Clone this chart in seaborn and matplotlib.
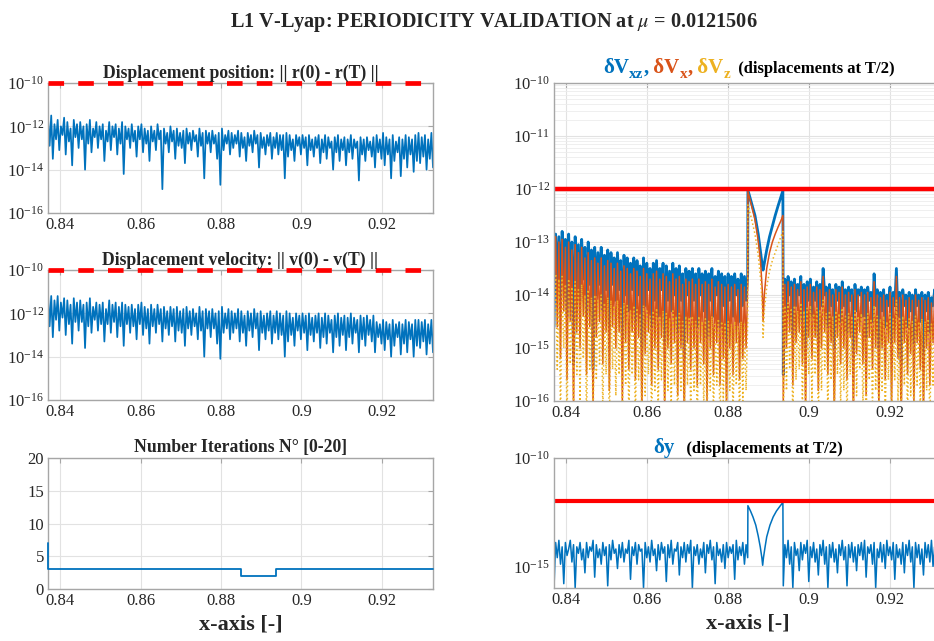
import numpy as np
import matplotlib
matplotlib.use("Agg")
import matplotlib.pyplot as plt
import seaborn as sns
from matplotlib.ticker import FixedLocator, LogLocator, NullLocator, NullFormatter, LogFormatterMathtext

# ---------------- data (log10 of the displacement norms) ----------------
x_start, x_end = 0.837, 0.9327
hump_start, hump_end = 0.8849, 0.8937
tol_pos, tol_vel, tol_half, tol_dy = 1e-10, 1e-10, 1e-12, 1e-12

pos_log = [-11.6,-12.9,-11.5,-13.5,-11.9,-12.6,-11.7,-13.1,-12.0,-12.4,
           -11.6,-13.3,-11.8,-12.7,-12.1,-13.8,-11.7,-12.5,-11.9,-13.0,
           -11.8,-12.6,-12.0,-14.0,-11.9,-12.8,-11.7,-13.2,-12.1,-12.5,
           -11.8,-13.0,-12.0,-12.6,-11.9,-13.6,-12.2,-12.7,-11.8,-13.1,
           -12.0,-12.5,-11.9,-13.3,-12.1,-12.8,-11.8,-14.2,-12.0,-12.6,
           -12.1,-13.0,-11.9,-12.7,-12.2,-13.4,-12.0,-12.6,-11.9,-13.2,
           -12.1,-12.8,-12.2,-13.6,-12.0,-12.7,-12.2,-13.1,-11.9,-12.6,
           -12.2,-14.9,-12.1,-12.8,-12.3,-13.2,-12.0,-12.7,-12.2,-13.5,
           -12.1,-12.9,-12.3,-13.0,-12.2,-13.7,-12.1,-12.8,-12.3,-13.1,
           -12.2,-12.7,-12.4,-13.4,-12.1,-12.9,-12.3,-14.4,-12.2,-12.8,
           -12.3,-13.2,-12.2,-12.8,-12.4,-13.5,-12.3,-14.7,-12.1,-13.1,
           -12.4,-12.8,-12.2,-13.3,-12.3,-13.0,-12.4,-12.8,-12.2,-13.4,
           -12.3,-13.0,-12.5,-13.6,-12.3,-12.9,-12.4,-13.2,-12.2,-12.8,
           -12.4,-13.9,-12.3,-13.0,-12.5,-13.3,-12.4,-12.9,-12.3,-13.5,
           -12.5,-13.0,-12.3,-13.3,-12.4,-13.1,-12.4,-14.4,-12.3,-13.4,
           -12.4,-13.1,-12.6,-13.6,-12.4,-12.9,-12.5,-13.3,-12.4,-13.0,
           -12.5,-13.8,-12.4,-13.1,-12.6,-13.4,-12.5,-13.0,-12.4,-13.7,
           -12.6,-13.2,-12.4,-13.5,-12.5,-13.0,-12.7,-14.0,-12.5,-13.2,
           -12.4,-13.6,-12.6,-13.1,-12.5,-13.8,-12.6,-13.2,-12.4,-13.5,
           -12.6,-13.0,-12.7,-14.5,-12.5,-13.3,-12.6,-13.6,-12.5,-13.1,
           -12.7,-13.4,-12.5,-13.9,-12.4,-13.2,-12.6,-13.5,-12.3,-13.8,
           -12.5,-13.3,-12.6,-14.4,-12.4,-13.6,-12.7,-13.2,-12.5,-14.3,
           -12.6,-13.5,-12.4,-13.9,-12.5,-13.3,-12.6,-14.1,-12.4,-13.6,
           -12.3,-13.7,-12.5,-13.4,-12.4,-14.0,-12.6,-13.5,-12.3,-13.9]

vel_log = [-11.1,-12.6,-11.2,-13.1,-11.4,-12.3,-11.2,-12.8,-11.5,-12.2,
           -11.3,-13.0,-11.4,-12.5,-11.6,-13.4,-11.3,-12.4,-11.5,-12.8,
           -11.4,-12.4,-11.6,-13.6,-11.5,-12.6,-11.3,-12.9,-11.7,-12.3,
           -11.5,-12.8,-11.6,-12.5,-11.5,-13.3,-11.8,-12.5,-11.4,-12.9,
           -11.6,-12.4,-11.5,-13.1,-11.7,-12.6,-11.5,-13.5,-11.6,-12.5,
           -11.7,-12.9,-11.6,-12.6,-11.8,-13.2,-11.6,-12.5,-11.5,-13.0,
           -11.7,-12.7,-11.8,-13.4,-11.6,-12.6,-11.8,-12.9,-11.6,-12.5,
           -11.8,-13.3,-11.7,-12.7,-11.9,-13.0,-11.7,-12.6,-11.8,-13.3,
           -11.7,-12.8,-11.9,-12.9,-11.8,-13.5,-11.7,-12.7,-11.9,-13.0,
           -11.8,-12.6,-12.0,-13.2,-11.7,-12.8,-11.9,-14.0,-11.8,-12.7,
           -11.9,-13.1,-11.8,-12.7,-12.0,-13.4,-11.9,-14.1,-11.7,-12.9,
           -12.0,-12.7,-11.8,-13.2,-11.9,-12.9,-12.0,-12.7,-11.8,-13.3,
           -11.9,-12.9,-12.1,-13.5,-11.9,-12.8,-12.0,-13.1,-11.8,-12.7,
           -12.0,-13.7,-11.9,-12.9,-12.1,-13.2,-12.0,-12.8,-11.9,-13.4,
           -12.1,-12.9,-11.9,-13.2,-12.0,-13.0,-12.1,-14.0,-11.9,-13.3,
           -12.0,-13.0,-12.2,-13.5,-12.0,-12.8,-12.1,-13.2,-12.0,-12.9,
           -12.1,-13.7,-12.0,-13.0,-12.2,-13.3,-12.1,-12.9,-12.0,-13.6,
           -12.2,-13.1,-12.0,-13.4,-12.1,-12.9,-12.3,-13.8,-12.1,-13.1,
           -12.0,-13.5,-12.2,-13.0,-12.1,-13.7,-12.2,-13.1,-12.0,-13.4,
           -12.2,-12.9,-12.3,-13.8,-12.1,-13.2,-12.2,-13.5,-12.1,-13.0,
           -12.3,-13.3,-12.1,-13.8,-12.4,-13.1,-12.5,-13.4,-12.3,-13.7,
           -12.4,-13.2,-12.5,-14.0,-12.3,-13.5,-12.5,-13.1,-12.4,-13.9,
           -12.5,-13.4,-12.3,-13.8,-12.4,-13.2,-12.5,-14.0,-12.3,-13.5,
           -12.3,-13.6,-12.4,-13.3,-12.3,-13.9,-12.5,-13.4,-12.3,-13.8]

iter_x = [0.8370, 0.8371, 0.8849, 0.8937, 0.9327]
iter_n = [7, 3, 2, 3, 3]

dVxz_L = [-14.6,-12.85,-13.9,-12.9,-14.2,-12.8,-13.7,-12.95,-14.4,-12.85,
          -13.8,-13.0,-15.3,-12.9,-13.9,-13.05,-14.1,-12.95,-13.7,-13.1,
          -14.5,-13.0,-13.8,-13.15,-15.4,-13.1,-14.0,-13.2,-13.8,-13.1,
          -14.3,-13.25,-13.9,-13.15,-14.6,-13.2,-13.8,-13.3,-14.1,-13.2,
          -13.9,-13.35,-14.8,-13.25,-14.0,-13.3,-14.3,-13.4,-13.9,-13.3,
          -14.5,-13.35,-14.0,-13.45,-15.0,-13.3,-14.2,-13.4,-13.9,-13.5,
          -14.6,-13.4,-14.1,-13.35,-14.4,-13.5,-13.9,-13.4,-14.9,-13.45,
          -14.1,-13.55,-14.3,-13.4,-14.0,-13.5,-14.7,-13.45,-14.1,-13.6,
          -15.2,-13.5,-14.0,-13.55,-14.4,-13.5,-14.1,-13.6,-14.6,-13.5,
          -14.0,-13.6,-14.3,-13.55,-14.8,-13.6,-14.1,-13.5,-14.4,-13.65,
          -14.0,-13.55,-14.6,-13.6,-14.2,-13.65,-14.9,-13.6,-14.1,-13.65,
          -14.4,-13.6,-14.0,-13.7,-14.5,-13.6,-14.2,-13.65,-14.1,-13.6]
dVx_L = [-14.0,-12.9,-14.6,-13.0,-15.2,-12.95,-14.3,-13.1,-15.6,-13.0,
         -14.5,-13.15,-16.2,-13.05,-14.7,-13.2,-15.0,-13.1,-14.4,-13.3,
         -15.5,-13.2,-14.6,-13.35,-16.1,-13.3,-14.8,-13.4,-14.5,-13.3,
         -15.3,-13.45,-14.7,-13.35,-15.8,-13.4,-14.6,-13.5,-15.0,-13.4,
         -14.7,-13.55,-16.0,-13.45,-14.9,-13.5,-15.4,-13.6,-14.7,-13.5,
         -15.6,-13.55,-14.8,-13.65,-16.3,-13.5,-15.1,-13.6,-14.7,-13.7,
         -15.7,-13.6,-15.0,-13.55,-15.4,-13.7,-14.8,-13.6,-16.2,-13.65,
         -15.0,-13.75,-15.3,-13.6,-14.9,-13.7,-15.9,-13.65,-15.0,-13.8,
         -16.4,-13.7,-14.9,-13.75,-15.4,-13.7,-15.0,-13.8,-15.7,-13.7,
         -14.9,-13.8,-15.3,-13.75,-16.0,-13.8,-15.0,-13.7,-15.5,-13.85,
         -14.9,-13.75,-15.7,-13.8,-15.2,-13.85,-16.2,-13.8,-15.0,-13.85,
         -15.5,-13.8,-14.9,-13.9,-15.6,-13.8,-15.2,-13.85,-15.0,-13.8]
dVz_L = [-14.8,-13.6,-15.4,-13.7,-16.3,-13.65,-15.0,-13.8,-16.5,-13.7,
         -15.3,-13.85,-16.5,-13.75,-15.5,-13.9,-16.0,-13.8,-15.2,-14.0,
         -16.4,-13.9,-15.4,-14.05,-16.5,-14.0,-15.6,-14.1,-15.3,-14.0,
         -16.2,-14.15,-15.5,-14.05,-16.5,-14.1,-15.4,-14.2,-15.9,-14.1,
         -15.5,-14.25,-16.5,-14.15,-15.7,-14.2,-16.3,-14.3,-15.5,-14.2,
         -16.4,-14.25,-15.6,-14.35,-16.5,-14.2,-15.9,-14.3,-15.5,-14.4,
         -16.5,-14.3,-15.8,-14.25,-16.2,-14.4,-15.6,-14.3,-16.5,-14.35,
         -15.8,-14.45,-16.1,-14.3,-15.7,-14.4,-16.5,-14.35,-15.8,-14.5,
         -16.5,-14.4,-15.7,-14.45,-16.2,-14.4,-15.8,-14.5,-16.5,-14.4,
         -15.7,-14.5,-16.1,-14.45,-16.5,-14.5,-15.8,-14.4,-16.3,-14.55,
         -15.7,-14.45,-16.5,-14.5,-16.0,-14.55,-16.5,-14.5,-15.8,-14.55,
         -16.3,-14.5,-15.7,-14.6,-16.4,-14.5,-16.0,-14.55,-15.8,-14.5]

hump_x = [0.88495, 0.8858, 0.8867, 0.8875, 0.8881, 0.8885, 0.8887, 0.8890,
          0.8896, 0.8903, 0.8910, 0.8917, 0.8924, 0.8931, 0.8936]
dVxz_hump = [-12.02,-12.25,-12.5,-12.85,-13.2,-13.45,-13.53,-13.4,
             -13.15,-12.9,-12.7,-12.5,-12.32,-12.15,-12.03]
dVx_hump = [-12.05,-12.3,-12.58,-12.98,-13.4,-13.9,-14.5,-14.0,
            -13.5,-13.2,-13.0,-12.85,-12.72,-12.6,-12.5]
dVz_hump = [-12.3,-12.55,-12.85,-13.25,-13.7,-14.2,-14.8,-14.3,
            -13.85,-13.55,-13.35,-13.2,-13.05,-12.9,-12.8]

dVxz_R = [-15.5,-13.7,-14.3,-13.65,-14.0,-13.75,-14.8,-13.7,-14.2,-13.8,
          -14.0,-13.65,-14.5,-13.8,-15.1,-13.75,-14.1,-13.7,-14.4,-13.85,
          -14.1,-13.75,-14.9,-13.8,-14.2,-13.5,-14.0,-13.85,-14.6,-13.8,
          -14.2,-13.9,-15.0,-13.8,-14.1,-13.85,-14.5,-13.75,-14.2,-13.9,
          -14.7,-13.85,-14.1,-13.9,-15.2,-13.8,-14.3,-13.9,-14.0,-13.85,
          -14.4,-13.9,-14.8,-13.85,-14.1,-13.95,-14.5,-13.6,-14.2,-13.9,
          -15.0,-13.95,-14.3,-13.9,-14.6,-14.0,-14.2,-13.85,-14.9,-13.95,
          -14.2,-13.5,-14.4,-13.95,-15.3,-13.9,-14.2,-14.0,-14.6,-13.95,
          -14.3,-14.0,-14.9,-13.9,-14.2,-14.0,-14.5,-13.95,-15.1,-14.0,
          -14.3,-13.95,-14.7,-14.05,-14.2,-13.9,-14.8,-14.0,-14.4,-13.95]
dVx_R = [-16.0,-13.8,-15.0,-13.75,-14.7,-13.85,-15.7,-13.8,-14.9,-13.9,
         -14.7,-13.75,-15.3,-13.9,-16.2,-13.85,-14.8,-13.8,-15.2,-13.95,
         -14.8,-13.85,-15.8,-13.9,-15.0,-13.65,-14.7,-13.95,-15.5,-13.9,
         -14.9,-14.0,-16.3,-13.9,-14.8,-13.95,-15.3,-13.85,-15.0,-14.0,
         -15.6,-13.95,-14.8,-14.0,-16.4,-13.9,-15.1,-14.0,-14.7,-13.95,
         -15.3,-14.0,-15.9,-13.95,-14.8,-14.05,-15.4,-13.75,-15.0,-14.0,
         -16.1,-14.05,-15.0,-14.0,-15.6,-14.1,-14.9,-13.95,-16.0,-14.05,
         -14.9,-13.65,-15.2,-14.05,-16.5,-14.0,-14.9,-14.1,-15.5,-14.05,
         -15.1,-14.1,-16.0,-14.0,-14.9,-14.1,-15.4,-14.05,-16.3,-14.1,
         -15.0,-14.05,-15.7,-14.15,-14.9,-14.0,-16.0,-14.1,-15.3,-14.05]
dVz_R = [-16.5,-14.2,-15.8,-14.15,-15.4,-14.25,-16.4,-14.2,-15.6,-14.3,
         -15.4,-14.15,-16.1,-14.3,-16.5,-14.25,-15.5,-14.2,-16.0,-14.35,
         -15.5,-14.25,-16.5,-14.3,-15.8,-14.1,-15.4,-14.35,-16.3,-14.3,
         -15.6,-14.4,-16.5,-14.3,-15.5,-14.35,-16.1,-14.25,-15.8,-14.4,
         -16.4,-14.35,-15.5,-14.4,-16.5,-14.3,-15.9,-14.4,-15.4,-14.35,
         -16.1,-14.4,-16.5,-14.35,-15.6,-14.45,-16.2,-14.2,-15.8,-14.4,
         -16.5,-14.45,-15.8,-14.4,-16.4,-14.5,-15.6,-14.35,-16.5,-14.45,
         -15.6,-14.1,-16.0,-14.45,-16.5,-14.4,-15.7,-14.5,-16.3,-14.45,
         -15.9,-14.5,-16.5,-14.4,-15.7,-14.5,-16.2,-14.45,-16.5,-14.5,
         -15.8,-14.45,-16.5,-14.55,-15.7,-14.4,-16.5,-14.5,-16.1,-14.45]

dy_L = [-16.0,-13.9,-14.6,-13.8,-14.9,-14.1,-15.8,-13.9,-14.5,-14.2,
        -13.8,-14.8,-14.0,-16.0,-14.1,-14.4,-13.9,-14.7,-14.2,-15.3,
        -13.9,-14.6,-14.1,-14.3,-13.8,-15.5,-14.0,-14.6,-14.2,-14.9,
        -13.9,-14.5,-14.1,-15.9,-14.0,-14.7,-13.8,-14.4,-14.2,-15.1,
        -14.0,-14.6,-13.9,-14.8,-14.2,-14.4,-13.8,-15.6,-14.1,-14.5,
        -13.9,-14.9,-14.0,-14.3,-14.2,-16.0,-13.9,-14.6,-14.1,-14.8,
        -13.8,-14.5,-14.2,-15.2,-14.0,-14.7,-13.9,-14.4,-14.1,-15.7,
        -14.0,-14.6,-13.8,-14.9,-14.2,-14.3,-13.9,-15.4,-14.1,-14.6,
        -13.9,-14.8,-14.0,-14.4,-13.8,-16.0,-14.1,-14.5,-14.0,-14.9,
        -14.2,-14.6,-13.9,-15.3,-14.0,-14.4,-13.8,-14.7,-14.1,-15.8,
        -13.9,-14.5,-14.2,-14.8,-14.0,-15.1,-13.9,-14.6,-14.1,-14.4,
        -14.0,-15.6,-13.8,-14.7,-14.1,-14.5,-13.9,-14.9,-14.0,-14.6]
dy_hump_x = [0.88495, 0.8856, 0.8862, 0.8869, 0.8875, 0.8880, 0.8884, 0.8886,
             0.8888, 0.8892, 0.8896, 0.8904, 0.8912, 0.8920, 0.8929, 0.8936]
dy_hump = [-12.2,-12.45,-12.72,-13.1,-13.6,-14.1,-14.6,-14.95,
           -14.6,-14.1,-13.64,-13.1,-12.72,-12.45,-12.22,-12.05]
dy_R = [-15.9,-14.0,-14.6,-13.8,-14.9,-14.1,-16.0,-13.9,-14.5,-14.2,
        -15.2,-13.9,-14.7,-14.0,-14.4,-13.8,-15.7,-14.1,-14.6,-13.9,
        -14.8,-14.2,-15.4,-14.0,-14.5,-13.8,-14.9,-14.1,-16.0,-14.0,
        -14.6,-13.9,-14.8,-14.2,-15.3,-14.0,-14.5,-13.8,-14.7,-14.1,
        -15.9,-14.0,-14.6,-13.9,-14.8,-14.1,-15.2,-14.0,-14.5,-13.9,
        -14.7,-13.8,-15.5,-14.1,-14.4,-14.0,-14.9,-13.9,-16.0,-14.2,
        -14.6,-13.9,-14.8,-14.0,-15.1,-13.8,-14.5,-14.1,-14.7,-13.9,
        -15.6,-14.0,-14.6,-14.2,-14.9,-13.9,-15.3,-14.0,-14.5,-13.8,
        -14.8,-14.1,-16.0,-13.9,-14.6,-14.0,-14.9,-14.2,-15.4,-13.9,
        -14.6,-14.0,-14.8,-13.8,-15.0,-14.1,-14.5,-13.9,-15.7,-14.0]

x_ticks = [0.84, 0.86, 0.88, 0.9, 0.92]
x_tick_labels = ["0.84", "0.86", "0.88", "0.9", "0.92"]
decade_ticks = [1e-16, 1e-15, 1e-14, 1e-13, 1e-12, 1e-11, 1e-10]

# ---------------- style ----------------
sns.set_theme(style="white")
plt.rcParams['font.family'] = ['Liberation Serif', 'DejaVu Serif']
plt.rcParams['mathtext.fontset'] = 'stix'

BLUE, ORANGE, YELLOW, RED = "#0072BD", "#D95319", "#EDB120", "#FF0000"
SPINE = "#a6a6a6"
GRID = "#e2e2e2"

fig = plt.figure(figsize=(9.34, 6.41), dpi=100)
W, H = 934.0, 641.0

def add_ax(l, t, r, b):
    return fig.add_axes([l / W, 1 - b / H, (r - l) / W, (b - t) / H])

def style(ax):
    for s in ax.spines.values():
        s.set_color(SPINE)
        s.set_linewidth(1.0)
    ax.tick_params(direction='in', length=3.5, width=0.8, color=SPINE,
                   labelsize=12, labelcolor='#262626', top=True, right=True,
                   pad=3)
    ax.tick_params(which='minor', length=0)
    ax.set_xlim(x_start, x_end)
    ax.xaxis.set_major_locator(FixedLocator(x_ticks))
    ax.set_xticklabels(x_tick_labels)
    ax.grid(True, which='major', color=GRID, lw=0.8)
    ax.set_axisbelow(True)
    ax.set_xlabel("")
    ax.set_ylabel("")

def exp10(v):
    return 10.0 ** np.asarray(v, dtype=float)

def log_axis(ax, ticks):
    ax.set_ylim(1e-16, 1e-10)
    ax.yaxis.set_major_locator(FixedLocator(ticks))
    ax.yaxis.set_major_formatter(LogFormatterMathtext())
    ax.yaxis.set_minor_locator(NullLocator())

# ---- left top: position ----
ax1 = add_ax(48, 83, 433, 213)
sns.lineplot(x=np.linspace(x_start, x_end, len(pos_log)), y=exp10(pos_log),
             ax=ax1, color=BLUE, lw=1.25, sort=False, estimator=None)
ax1.set_yscale('log')
ax1.axhline(tol_pos, color=RED, lw=3.4, ls=(0, (3.3, 3.0)), clip_on=False, zorder=3)
style(ax1)
log_axis(ax1, [1e-16, 1e-14, 1e-12, 1e-10])
ax1.set_title("Displacement position: || r(0) - r(T) ||", fontsize=12.7,
              fontweight='bold', pad=4)

# ---- left middle: velocity ----
ax2 = add_ax(48, 270, 433, 400)
sns.lineplot(x=np.linspace(x_start, x_end, len(vel_log)), y=exp10(vel_log),
             ax=ax2, color=BLUE, lw=1.25, sort=False, estimator=None)
ax2.set_yscale('log')
ax2.axhline(tol_vel, color=RED, lw=3.4, ls=(0, (3.3, 3.0)), clip_on=False, zorder=3)
style(ax2)
log_axis(ax2, [1e-16, 1e-14, 1e-12, 1e-10])
ax2.set_title("Displacement velocity: || v(0) - v(T) ||", fontsize=12.7,
              fontweight='bold', pad=4)

# ---- left bottom: iterations ----
ax3 = add_ax(48, 458, 433, 589)
sns.lineplot(x=iter_x, y=iter_n, ax=ax3, color=BLUE, lw=1.3,
             drawstyle='steps-post', sort=False, estimator=None, zorder=3,
             clip_on=False)
ax3.set_ylim(0, 20)
style(ax3)
ax3.yaxis.set_major_locator(FixedLocator([0, 5, 10, 15, 20]))
ax3.set_title("Number Iterations N° [0-20]", fontsize=12.7, fontweight='bold', pad=4)
ax3.set_xlabel("x-axis [-]", fontsize=16, fontweight='bold', labelpad=4)

# ---- right top: half-period velocity displacements ----
ax4 = add_ax(554, 83, 941, 401)
xL = np.linspace(x_start, hump_start, len(dVxz_L))
xR = np.linspace(hump_end, x_end, len(dVxz_R))
x_half = np.concatenate([xL, hump_x, xR])
sns.lineplot(x=x_half, y=exp10(dVxz_L + dVxz_hump + dVxz_R), ax=ax4,
             color=BLUE, lw=2.0, sort=False, estimator=None)
sns.lineplot(x=x_half, y=exp10(dVx_L + dVx_hump + dVx_R), ax=ax4,
             color=ORANGE, lw=1.1, sort=False, estimator=None)
sns.lineplot(x=x_half, y=exp10(dVz_L + dVz_hump + dVz_R), ax=ax4,
             color=YELLOW, lw=1.1, ls=':', sort=False, estimator=None)
ax4.set_yscale('log')
ax4.axhline(tol_half, color=RED, lw=3.2)
style(ax4)
log_axis(ax4, decade_ticks)
minor = [m * d for d in decade_ticks[:-1] for m in range(2, 10)]
ax4.yaxis.set_minor_locator(FixedLocator(minor))
ax4.yaxis.set_minor_formatter(NullFormatter())
ax4.grid(True, which='minor', axis='y', color='#ececec', lw=0.6)

# ---- right bottom: dy ----
ax5 = add_ax(554, 458, 941, 588)
xdL = np.linspace(x_start, hump_start, len(dy_L))
xdR = np.linspace(hump_end, x_end, len(dy_R))
sns.lineplot(x=np.concatenate([xdL, dy_hump_x, xdR]),
             y=exp10(dy_L + dy_hump + dy_R), ax=ax5, color=BLUE, lw=1.1,
             sort=False, estimator=None)
ax5.set_yscale('log')
ax5.axhline(tol_dy, color=RED, lw=3.0)
style(ax5)
log_axis(ax5, [1e-15, 1e-10])
ax5.set_xlabel("x-axis [-]", fontsize=16, fontweight='bold', labelpad=4)

# ---- multi-coloured titles (pieces placed side by side) ----
renderer = fig.canvas.get_renderer()

def chain_text(x_px, base_px, pieces):
    x = x_px
    for txt, col, sub, fs in pieces:
        y = base_px + (5 if sub else 0)
        t = fig.text(x / W, 1 - y / H, txt, color=col, fontsize=fs,
                     fontweight='bold', va='baseline', ha='left')
        x = t.get_window_extent(renderer).x1

chain_text(603, 73, [("δV", BLUE, False, 15), ("xz", BLUE, True, 11),
                     (",", BLUE, False, 15), (" δV", ORANGE, False, 15),
                     ("x", ORANGE, True, 11), (",", ORANGE, False, 15),
                     (" δV", YELLOW, False, 15), ("z", YELLOW, True, 11),
                     ("  (displacements at T/2)", "black", False, 12)])
chain_text(653, 453, [("δy", BLUE, False, 15),
                      ("   (displacements at T/2)", "black", False, 12)])

fig.text(494 / W, 1 - 22 / H, r"L1 V-Lyap: PERIODICITY VALIDATION at $\mu$ = 0.0121506",
         ha='center', va='center', fontsize=14.6, fontweight='bold')

fig.savefig("out.png", dpi=100)
